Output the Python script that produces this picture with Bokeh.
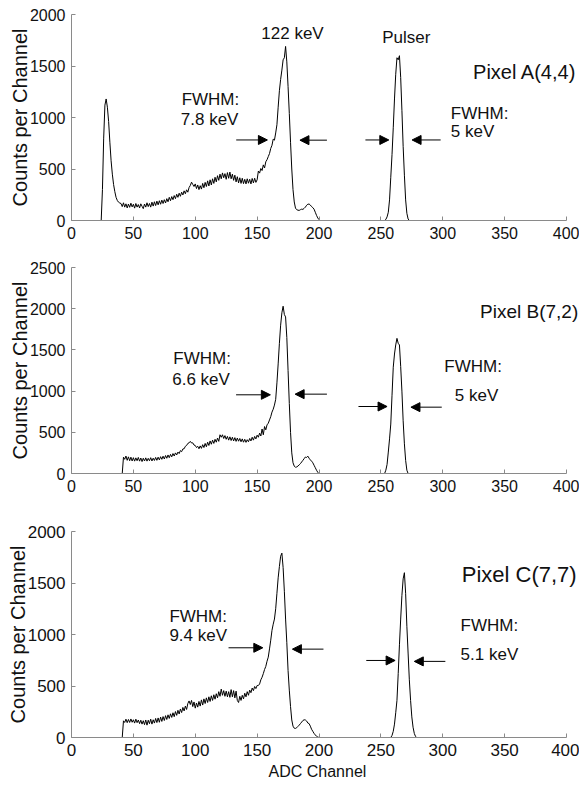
from bokeh.plotting import figure
from bokeh.models import Range1d, FixedTicker, Label, Arrow, NormalHead, Title
from bokeh.layouts import column
from bokeh.embed import file_html
from bokeh.resources import INLINE

FONT = "Liberation Sans"

x_ticks = [0, 50, 100, 150, 200, 250, 300, 350, 400]
y_ticks_a = [0, 500, 1000, 1500, 2000]
y_ticks_b = [0, 500, 1000, 1500, 2000, 2500]
y_ticks_c = [0, 500, 1000, 1500, 2000]

# ---------------- Pixel A(4,4) ----------------
a_first_channel = 24
a_counts = [
    0, 300, 800, 1120, 1180, 1100, 960, 760, 580, 450,          # 24-33
    350, 280, 225, 195, 178, 170, 165, 135, 172, 130,           # 34-43
    162, 122, 160, 128, 168, 132, 158, 120, 165, 130,           # 44-53
    155, 122, 162, 138, 115, 160, 130, 172, 135, 165,           # 54-63
    130, 178, 140, 182, 145, 188, 152, 192, 158, 198,           # 64-73
    165, 202, 170, 212, 182, 225, 192, 232, 202, 242,           # 74-83
    212, 255, 225, 265, 235, 275, 248, 288, 260, 298,           # 84-93
    275, 320, 340, 372, 350, 330, 355, 310, 345, 300,           # 94-103
    338, 305, 360, 318, 370, 330, 385, 335, 395, 345,           # 104-113
    405, 360, 420, 375, 435, 390, 450, 405, 462, 415,           # 114-123
    455, 400, 465, 410, 470, 405, 450, 390, 440, 375,           # 124-133
    425, 365, 415, 360, 410, 358, 400, 355, 405, 362,           # 134-143
    400, 355, 408, 365, 410, 370, 395, 480, 460, 505,           # 144-153
    485, 540, 510, 570, 590, 620, 650, 700, 730, 790,           # 154-163
    780, 850, 930, 1100, 1260, 1370, 1460, 1560, 1580, 1690,    # 164-173
    1540, 1300, 1040, 760, 500, 300, 180, 120, 105, 100,        # 174-183
    98, 105, 110, 108, 118, 130, 148, 158, 160, 150,            # 184-193
    135, 125, 110, 80, 50, 25, 8, 0,                            # 194-201
]
a_pulser_first_channel = 253
a_pulser = [0, 10, 35, 80, 200, 420, 640, 900, 1180, 1420, 1580, 1560,
            1600, 1390, 1070, 720, 440, 200, 70, 15, 0]

# ---------------- Pixel B(7,2) ----------------
b_first_channel = 41
b_counts = [
    0, 198, 172, 212, 160, 202, 155, 198, 152, 192,             # 41-50
    150, 190, 155, 195, 150, 188, 145, 185, 152, 190,           # 51-60
    150, 184, 155, 192, 152, 186, 158, 195, 160, 198,           # 61-70
    165, 204, 172, 210, 176, 218, 185, 225, 192, 232,           # 71-80
    202, 242, 212, 250, 225, 260, 242, 278, 265, 298,           # 81-90
    300, 330, 340, 365, 372, 390, 370, 372, 345, 340,           # 91-100
    315, 330, 300, 335, 305, 350, 315, 365, 325, 380,           # 101-110
    340, 395, 355, 405, 365, 415, 380, 430, 390, 470,           # 111-120
    440, 470, 425, 460, 415, 450, 405, 445, 400, 440,           # 121-130
    395, 435, 390, 430, 392, 425, 385, 420, 380, 415,           # 131-140
    378, 410, 385, 425, 395, 440, 405, 450, 420, 465,           # 141-150
    440, 490, 455, 540, 470, 570, 530, 590, 610, 650,           # 151-160
    690, 745, 780, 830, 900, 1100, 1330, 1580, 1800, 1950,      # 161-170
    2030, 1930, 1900, 1650, 1250, 850, 500, 250, 130, 90,       # 171-180
    75, 80, 90, 105, 120, 140, 160, 180, 200, 195,              # 181-190
    210, 185, 165, 150, 130, 100, 70, 40, 15, 0,                # 191-200
]
b_pulser_first_channel = 253
b_pulser = [0, 40, 110, 260, 420, 600, 950, 1290, 1450, 1560, 1640, 1580,
            1560, 1300, 1000, 640, 360, 160, 40, 0]

# ---------------- Pixel C(7,7) ----------------
c_first_channel = 30
c_counts = [
    0, 0, 0, 0, 0, 0, 0, 0, 0, 0, 0, 0,                         # 30-41
    162, 146, 178, 144, 175, 146, 180, 148, 172,                # 42-50
    140, 178, 144, 170, 135, 168, 130, 163, 125, 170,           # 51-60
    120, 168, 134, 178, 130, 172, 140, 185, 145, 190,           # 61-70
    148, 198, 156, 203, 165, 212, 175, 220, 185, 230,           # 71-80
    195, 240, 202, 252, 215, 264, 228, 277, 242, 292,           # 81-90
    258, 305, 272, 330, 355, 320, 360, 300, 345, 285,           # 91-100
    335, 295, 350, 305, 365, 315, 375, 330, 385, 340,           # 101-110
    395, 350, 405, 360, 415, 372, 425, 385, 445, 400,           # 111-120
    470, 410, 455, 400, 450, 395, 445, 390, 465, 395,           # 121-130
    455, 385, 450, 360, 340, 400, 360, 410, 375, 430,           # 131-140
    395, 445, 410, 460, 435, 480, 455, 495, 475, 505,           # 141-150
    505, 520, 560, 585, 620, 660, 690, 740, 780, 860,           # 151-160
    945, 1040, 1100, 1150, 1250, 1400, 1550, 1660, 1760, 1790,  # 161-170
    1650, 1420, 1150, 920, 650, 460, 300, 170, 110, 90,         # 171-180
    88, 95, 108, 120, 135, 150, 165, 172, 170, 160,             # 181-190
    140, 135, 110, 80, 60, 40, 25, 12, 5, 0,                    # 191-200
]
c_pulser_first_channel = 258
c_pulser = [0, 20, 60, 130, 240, 360, 620, 900, 1150, 1380, 1540, 1600,
            1400, 1080, 820, 560, 360, 200, 100, 40, 10, 0]

# channel at the right edge of the plot area (the picture goes past 400)
X_END = 410.5


def full_spectrum(first, counts, p_first, pulser):
    ch = list(range(first, first + len(counts)))
    vals = list(counts)
    for c in range(ch[-1] + 1, p_first):
        ch.append(c)
        vals.append(0)
    ch.extend(range(p_first, p_first + len(pulser)))
    vals.extend(pulser)
    return ch, vals


def make_panel(ch, vals, ymax, yticks, height, top, bottom, labels, arrows,
               tick_size="16px", xlabel=None):
    p = figure(width=579, height=height, x_range=Range1d(0, X_END),
               y_range=Range1d(0, ymax), output_backend="svg",
               toolbar_location=None, title=None,
               min_border_left=71, min_border_right=0,
               min_border_top=top, min_border_bottom=bottom)
    p.outline_line_color = None
    p.grid.visible = False
    p.background_fill_color = "white"
    p.border_fill_color = "white"

    p.line(ch, vals, line_color="black", line_width=1)

    for ax in (p.xaxis[0], p.yaxis[0]):
        ax.axis_line_color = "#8a8a8a"
        ax.major_tick_line_color = "#8a8a8a"
        ax.major_tick_in = 4
        ax.major_tick_out = 0
        ax.minor_tick_line_color = None
        ax.major_label_text_font = FONT
        ax.major_label_text_font_size = tick_size
        ax.major_label_text_color = "#111111"
        ax.major_label_standoff = 6
        ax.axis_label_text_font = FONT
        ax.axis_label_text_font_style = "normal"
        ax.axis_label_text_font_size = "20px"
        ax.axis_label_text_color = "#111111"
    p.xaxis.ticker = FixedTicker(ticks=x_ticks)
    p.xaxis.bounds = (0, 400)
    p.yaxis.ticker = FixedTicker(ticks=yticks)
    p.yaxis.bounds = (0, ymax)
    p.yaxis.axis_label = "Counts per Channel"
    p.yaxis.axis_label_standoff = -4

    for (txt, x, y, align, size) in labels:
        p.add_layout(Label(x=x, y=y, text=txt, text_font=FONT,
                           text_font_size=size, text_align=align,
                           text_baseline="middle", text_color="#111111"))
    for (x0, x1, y) in arrows:
        p.add_layout(Arrow(end=NormalHead(size=9, fill_color="black",
                                          line_color="black"),
                           x_start=x0, y_start=y, x_end=x1, y_end=y,
                           line_color="black", line_width=1))
    if xlabel:
        p.add_layout(Title(text=xlabel, align="left", offset=197,
                           text_font=FONT, text_font_size="16px",
                           text_font_style="normal", text_color="#111111",
                           standoff=4), "below")
    return p


a_ch, a_vals = full_spectrum(a_first_channel, a_counts, a_pulser_first_channel, a_pulser)
b_ch, b_vals = full_spectrum(b_first_channel, b_counts, b_pulser_first_channel, b_pulser)
c_ch, c_vals = full_spectrum(c_first_channel, c_counts, c_pulser_first_channel, c_pulser)

pa = make_panel(
    a_ch, a_vals, 2000, y_ticks_a, 250, 14, 30,
    labels=[("122 keV", 178.6, 1812, "center", "17px"),
            ("Pulser", 270.5, 1779, "center", "17px"),
            ("Pixel A(4,4)", 408.0, 1438, "right", "20px"),
            ("FWHM:", 89.0, 1179, "left", "17px"),
            ("7.8 keV", 88.3, 984, "left", "17px"),
            ("FWHM:", 306.5, 1039, "left", "17px"),
            (" 5 keV", 306.5, 861, "left", "17px")],
    arrows=[(133.1, 158.3, 782), (206.4, 184.6, 780),
            (237.5, 256.4, 782), (298.3, 275.2, 782)])

pb = make_panel(
    b_ch, b_vals, 2500, y_ticks_b, 253, 17, 30,
    labels=[("Pixel B(7,2)", 409.5, 1967, "right", "19px"),
            ("FWHM:", 82.3, 1400, "left", "17px"),
            ("6.6 keV", 81.4, 1145, "left", "17px"),
            ("FWHM:", 301.3, 1294, "left", "17px"),
            ("5 keV", 309.7, 951, "left", "17px")],
    arrows=[(133.0, 160.7, 955), (206.4, 180.7, 963),
            (231.9, 255.0, 813), (299.2, 274.3, 805)])

pc = make_panel(
    c_ch, c_vals, 2000, y_ticks_c, 284, 28, 50,
    labels=[("Pixel C(7,7)", 408.2, 1587, "right", "22px"),
            ("FWHM:", 79.1, 1174, "left", "17px"),
            ("9.4 keV", 79.1, 990, "left", "17px"),
            ("FWHM:", 314.4, 1087, "left", "17px"),
            ("5.1 keV", 314.4, 806, "left", "17px")],
    arrows=[(126.9, 154.6, 871), (203.6, 178.5, 858),
            (238.2, 261.5, 748), (302.1, 277.0, 739)],
    tick_size="17px", xlabel="ADC Channel")

layout = column(pa, pb, pc, spacing=0)
open("out.html", "w").write(file_html(layout, INLINE))
